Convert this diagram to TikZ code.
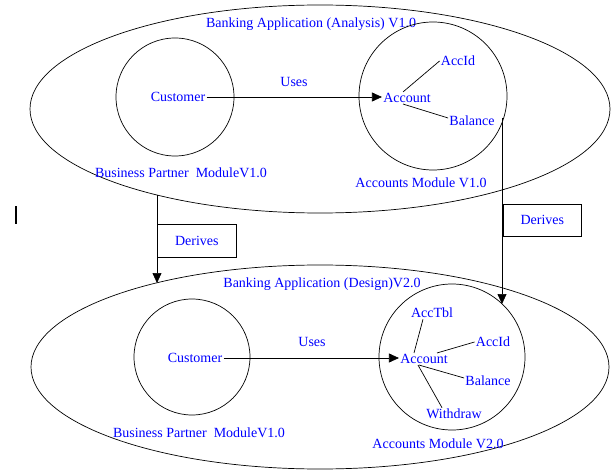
\documentclass[tikz,border=0pt]{standalone}
\usepackage{fontspec}
\setmainfont{Liberation Serif}
\usetikzlibrary{shapes,arrows,positioning,calc,arrows.meta}

\begin{document}
\begin{tikzpicture}[x=1pt, y=-1pt, line width=0.7pt,
    lbl/.style={text=blue, font=\fontsize{14}{16}\selectfont, inner sep=1pt},
    model/.style={draw, ellipse, inner sep=0pt},
    module/.style={draw, circle, inner sep=0pt},
    derivebox/.style={draw, anchor=west, text=blue, font=\fontsize{14}{16}\selectfont, minimum width=79pt, minimum height=33pt},
    arr/.style={-{Triangle[length=10pt,width=9pt]}}]
    \useasboundingbox (0,0) rectangle (613,473);

    % Analysis model
    \node[model, minimum width=580pt, minimum height=208pt] (analysis) at (320,109) {};
    \node[lbl] (title1) at (311,24) {Banking Application (Analysis) V1.0};
    \node[module, minimum size=118pt] (bp1) at (175,97) {};
    \node[module, minimum size=148pt] (am1) at (433,96) {};
    \node[lbl] (cust1) at (178,97) {Customer};
    \node[lbl] (acc1) at (407,98) {Account};
    \node[lbl] (accid1) at (458,61) {AccId};
    \node[lbl] (bal1) at (472,121) {Balance};
    \node[lbl] (uses1) at (294,82) {Uses};
    \node[lbl] (bpm1) at (181,173) {Business Partner\ \ ModuleV1.0};
    \node[lbl] (aml1) at (421,183) {Accounts Module V1.0};
    \draw[arr] (cust1.east) -- (cust1.east -| acc1.west);
    \draw ([xshift=-4pt]acc1.north) -- (accid1.west);
    \draw ([xshift=-4pt]acc1.south) -- ([yshift=3pt]bal1.west);

    % Design model
    \node[model, minimum width=578pt, minimum height=204pt] (design) at (320,367) {};
    \node[lbl] (title2) at (322,284) {Banking Application (Design)V2.0};
    \node[module, minimum size=116pt] (bp2) at (192,357) {};
    \node[module, minimum size=146pt] (am2) at (452,357) {};
    \node[lbl] (cust2) at (195,358) {Customer};
    \node[lbl] (acc2) at (424,359) {Account};
    \node[lbl] (acctbl2) at (432,313) {AccTbl};
    \node[lbl] (accid2) at (493,342) {AccId};
    \node[lbl] (bal2) at (488,381) {Balance};
    \node[lbl] (wd2) at (454,414) {Withdraw};
    \node[lbl] (uses2) at (312,342) {Uses};
    \node[lbl] (bpm2) at (199,433) {Business Partner\ \ ModuleV1.0};
    \node[lbl] (aml2) at (438,444) {Accounts Module V2.0};
    \draw[arr] (cust2.east) -- (cust2.east -| acc2.west);
    \draw ([xshift=-10pt]acc2.north) -- ([xshift=-9pt]acctbl2.south);
    \draw ([xshift=13pt]acc2.north) -- (accid2.west);
    \draw ([xshift=-5pt]acc2.south) -- ([yshift=3pt]bal2.west);
    \draw ([xshift=-6pt]acc2.south) -- ([xshift=-12pt]wd2.north);

    % Derives links
    \coordinate (d1a) at (157,195);
    \coordinate (d1b) at (157,283);
    \coordinate (d2a) at (502,118);
    \coordinate (d2b) at (502,304);
    \draw[arr] (d1a) -- (d1b);
    \draw[arr] (d2a) -- (d2b);
    \node[derivebox] (der1) at (157,240.5) {Derives};
    \node[derivebox, minimum width=78pt, minimum height=32pt] (der2) at (503,220) {Derives};

    % cursor mark
    \fill (15,206) rectangle (17,224);
\end{tikzpicture}
\end{document}
